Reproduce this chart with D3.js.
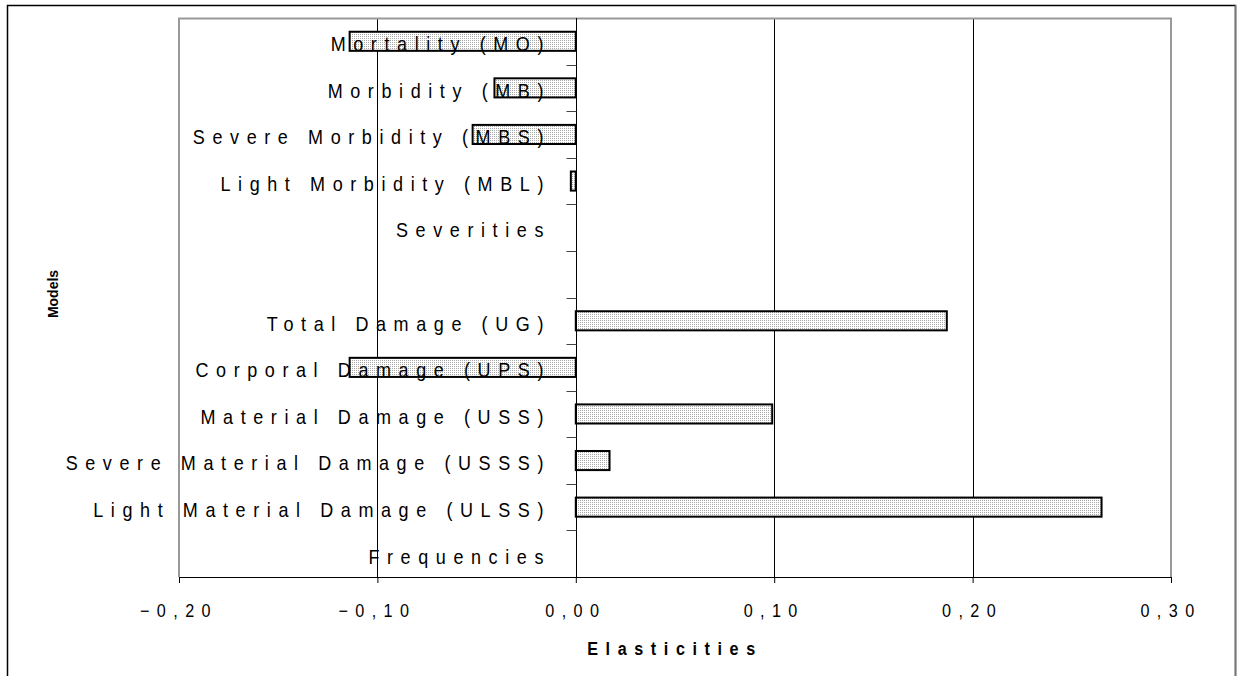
<!DOCTYPE html>
<html><head><meta charset="utf-8">
<script src="https://cdn.jsdelivr.net/npm/d3@7"></script>
<style>html,body{margin:0;padding:0;background:#fff;}svg{display:block;}</style>
</head><body>
<svg id="c" width="1237" height="676"></svg>
<script>
const categories = ["Mortality (MO)","Morbidity (MB)","Severe Morbidity (MBS)","Light Morbidity (MBL)","Severities","","Total Damage (UG)","Corporal Damage (UPS)","Material Damage (USS)","Severe Material Damage (USSS)","Light Material Damage (ULSS)","Frequencies"];
const values = [-0.114,-0.041,-0.052,-0.0025,null,null,0.187,-0.114,0.099,0.017,0.265,null];
const xTicks = [-0.2,-0.1,0,0.1,0.2,0.3];
const xTitle = "Elasticities";
const yTitle = "Models";

const svg = d3.select("#c");
const FONT = "'Liberation Sans', Arial, sans-serif";
const L = 179, R = 1171, T = 18, B = 577;

const x = d3.scaleLinear().domain([-0.2,0.3]).range([L,R]);
const y = d3.scaleBand().domain(d3.range(categories.length)).range([T,B]).paddingInner(0.59).paddingOuter(0.295);
const step = y.step();

// pattern
const defs = svg.append("defs");
const pat = defs.append("pattern").attr("id","dots").attr("width",2).attr("height",2).attr("patternUnits","userSpaceOnUse");
pat.append("rect").attr("width",2).attr("height",2).attr("fill","#fff");
pat.append("rect").attr("width",1).attr("height",1).attr("fill","#a8a8a8");

// outer border
svg.append("rect").attr("x",7.5).attr("y",5.5).attr("width",1228).attr("height",700).attr("fill","none").attr("stroke","#000").attr("stroke-width",1.5);
svg.append("line").attr("x1",1235.5).attr("x2",1235.5).attr("y1",5).attr("y2",676).attr("stroke","#777").attr("stroke-width",1.5);

// gridlines
svg.append("g").selectAll("line").data(xTicks.filter(d=>d!==0 && d!==-0.2 && d!==0.3)).join("line")
  .attr("x1",d=>Math.round(x(d))+0.5).attr("x2",d=>Math.round(x(d))+0.5).attr("y1",T).attr("y2",B)
  .attr("stroke","#000").attr("stroke-width",1);

// plot border (gray)
svg.append("path").attr("d",`M${L},${B} V${T+0.5} H${R} V${B}`).attr("fill","none").attr("stroke","#999").attr("stroke-width",2);

// bars
const bd = categories.map((c,i)=>({i, v: values[i]})).filter(d=>d.v!==null);
svg.append("g").selectAll("rect").data(bd).join("rect")
  .attr("x",d=>x(Math.min(0,d.v))).attr("width",d=>Math.abs(x(d.v)-x(0)))
  .attr("y",d=>y(d.i)).attr("height",y.bandwidth())
  .attr("fill","url(#dots)").attr("stroke","#000").attr("stroke-width",2);

// x axis
const xAxis = svg.append("g").attr("transform",`translate(0,${B})`).call(d3.axisBottom(x).tickValues(xTicks).tickSize(6).tickFormat(""));
xAxis.select(".domain").attr("stroke","#000");
xAxis.selectAll(".tick line").attr("stroke","#000");

// y axis at zero
const x0 = Math.round(x(0))+0.5;
svg.append("line").attr("x1",x0).attr("x2",x0).attr("y1",T).attr("y2",B).attr("stroke","#000").attr("stroke-width",1);
svg.append("g").selectAll("line").data(d3.range(1,categories.length)).join("line")
  .attr("x1",x0-10).attr("x2",x0).attr("y1",d=>Math.round(T+d*step)+0.5).attr("y2",d=>Math.round(T+d*step)+0.5)
  .attr("stroke","#444").attr("stroke-width",1);

// text helper
function sText(parent, str, px, py, opts){
  const sx = opts.sx || 0.85, ls = opts.ls || 0;
  const g = parent.append("g").attr("transform",`translate(${px},${py}) scale(${sx},1)`);
  return g.append("text").attr("x",0).attr("y",0).text(str)
    .attr("font-family",FONT).attr("font-size",opts.size).attr("font-weight",opts.bold?"bold":"normal")
    .attr("text-anchor",opts.anchor||"start").attr("letter-spacing",ls/sx).attr("fill","#000");
}

// category labels
const labG = svg.append("g");
categories.forEach((c,i)=>{
  if(!c) return;
  sText(labG, c, 551, y(i)+y.bandwidth()/2+9.8, {size:20, sx:0.9, ls:7.6, anchor:"end"});
});

// x tick labels
const tG = svg.append("g");
xTicks.forEach(t=>{
  sText(tG, d3.format(".2f")(t).replace(".",","), x(t), 617, {size:18, sx:0.9, ls:7.4, anchor:"middle"});
});

// titles
sText(svg, xTitle, 675, 655, {size:19, sx:0.85, ls:7.6, anchor:"middle", bold:true});
svg.append("text").attr("transform","translate(58,294) rotate(-90)").attr("text-anchor","middle")
  .attr("font-family",FONT).attr("font-size",14).attr("font-weight","bold").text(yTitle);
</script>
</body></html>
